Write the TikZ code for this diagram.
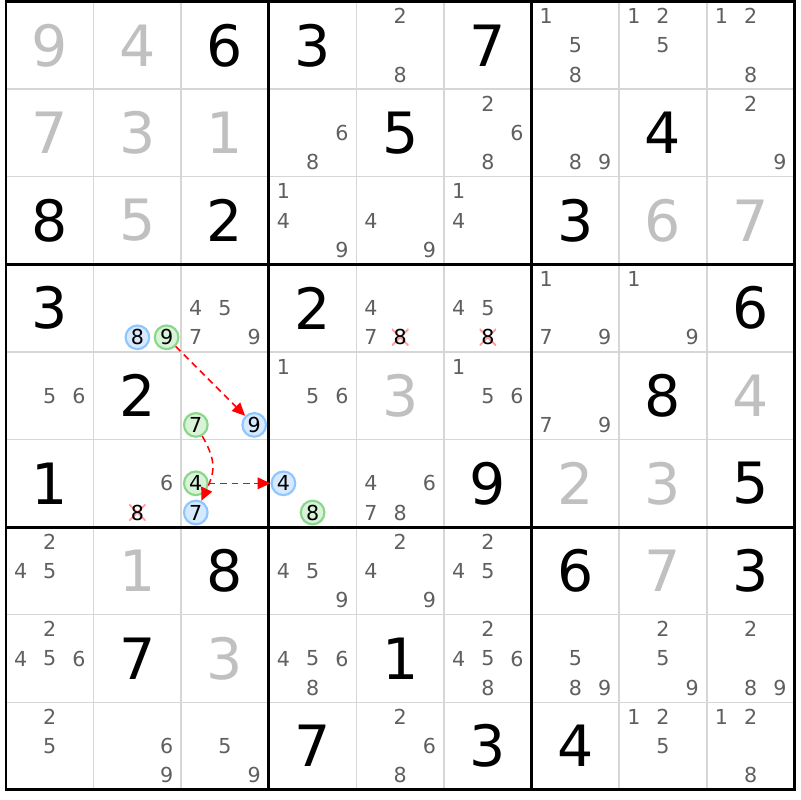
\documentclass[tikz,border=0pt]{standalone}
\usepackage{fontspec}
\setmainfont{DejaVu Sans}
\usetikzlibrary{arrows.meta}

\definecolor{solvedgray}{HTML}{C0C0C0}
\definecolor{candgray}{HTML}{5F5F5F}
\definecolor{gridgray}{HTML}{D6D6D6}
\definecolor{onfill}{HTML}{D6E9FF}
\definecolor{onring}{HTML}{8EC6FF}
\definecolor{offfill}{HTML}{D8F3D8}
\definecolor{offring}{HTML}{8AD68A}
\definecolor{strikepink}{HTML}{FF9C9C}

% candidate d of cell (r,c), placed in the 3x3 subgrid of the cell
\newcommand\candnode[4][cand]{%
	\node[#1] (r#2c#3n#4) at ({#3-1+(mod(#4-1,3)+0.5)/3},{-(#2-1)-(floor((#4-1)/3)+0.5)/3}) {#4};}

\begin{document}
\begin{tikzpicture}[>={Triangle[length=4.2pt,width=3.8pt]},
	]

	\tikzset{given/.style={inner sep=0pt,text=black,font=\fontsize{18.5}{20}\selectfont}}
	\tikzset{solved/.style={given,text=solvedgray}}
	\tikzset{cand/.style={inner sep=0pt,text=candgray,font=\fontsize{6.7}{7}\selectfont}}
	\tikzset{onbox/.style={cand,text=black,circle,draw=onring,fill=onfill,line width=0.7pt,minimum size=0.27cm}}
	\tikzset{offbox/.style={onbox,draw=offring,fill=offfill}}
	\tikzset{struck/.style={cand,text=black,minimum size=0.19cm,
				path picture={
						\draw[strikepink,line width=0.6pt]
						(path picture bounding box.south west) -- (path picture bounding box.north east)
						(path picture bounding box.north west) -- (path picture bounding box.south east);
					}}
	}
	\tikzset{chain arrow/.style={->,red,line width=0.5pt,dash pattern=on 2.2pt off 1.5pt}}

	\useasboundingbox (-0.0685,0.017) rectangle (9.0635,-9.115);

	% grid
	\foreach \i in {1,2,4,5,7,8}{
			\draw[gridgray,line width=0.5pt] (\i,0) -- (\i,-9);
			\draw[gridgray,line width=0.5pt] (0,-\i) -- (9,-\i);
		}
	\foreach \i in {3,6}{
			\draw[line width=0.95pt] (\i,0) -- (\i,-9);
			\draw[line width=0.95pt] (0,-\i) -- (9,-\i);
		}
	\draw[line width=0.95pt] (0,0) rectangle (9,-9);

	% givens
	\foreach \row/\col/\dig in {1/3/6,1/4/3,1/6/7,2/5/5,2/8/4,3/1/8,3/3/2,3/7/3,
			4/1/3,4/4/2,4/9/6,5/2/2,5/8/8,6/1/1,6/6/9,6/9/5,
			7/3/8,7/7/6,7/9/3,8/2/7,8/5/1,9/4/7,9/6/3,9/7/4}
	\node[given] (g\row\col) at (\col-0.5,0.5-\row) {\dig};

	% solved cells
	\foreach \row/\col/\dig in {1/1/9,1/2/4,2/1/7,2/2/3,2/3/1,3/2/5,3/8/6,3/9/7,
			5/5/3,5/9/4,6/7/2,6/8/3,7/2/1,7/8/7,8/3/3}
	\node[solved] (g\row\col) at (\col-0.5,0.5-\row) {\dig};

	% pencil marks
	\foreach \row/\col/\cands in {1/5/{2,8},1/7/{1,5,8},1/8/{1,2,5},1/9/{1,2,8},
			2/4/{6,8},2/6/{2,6,8},2/7/{8,9},2/9/{2,9},
			3/4/{1,4,9},3/5/{4,9},3/6/{1,4},
			4/3/{4,5,7,9},4/5/{4,7},4/6/{4,5},4/7/{1,7,9},4/8/{1,9},
			5/1/{5,6},5/4/{1,5,6},5/6/{1,5,6},5/7/{7,9},
			6/2/{6},6/5/{4,6,7,8},
			7/1/{2,4,5},7/4/{4,5,9},7/5/{2,4,9},7/6/{2,4,5},
			8/1/{2,4,5,6},8/4/{4,5,6,8},8/6/{2,4,5,6,8},8/7/{5,8,9},8/8/{2,5,9},8/9/{2,8,9},
			9/1/{2,5},9/2/{6,9},9/3/{5,9},9/5/{2,6,8},9/8/{1,2,5},9/9/{1,2,8}}
	\foreach \dig in \cands {\candnode{\row}{\col}{\dig}}

	% chain
	\candnode[onbox]{4}{2}{8}
	\candnode[offbox]{4}{2}{9}
	\candnode[offbox]{5}{3}{7}
	\candnode[onbox]{5}{3}{9}
	\candnode[offbox]{6}{3}{4}
	\candnode[onbox]{6}{3}{7}
	\candnode[onbox]{6}{4}{4}
	\candnode[offbox]{6}{4}{8}

	\candnode[struck]{4}{5}{8}
	\candnode[struck]{4}{6}{8}
	\candnode[struck]{6}{2}{8}

	\draw[chain arrow] (r4c2n9) -- (r5c3n9);
	\draw[chain arrow] (r5c3n7) to[out=-60,in=65,looseness=1.2] (r6c3n7);
	\draw[chain arrow] (r6c3n4) -- (r6c4n4);

\end{tikzpicture}
\end{document}
